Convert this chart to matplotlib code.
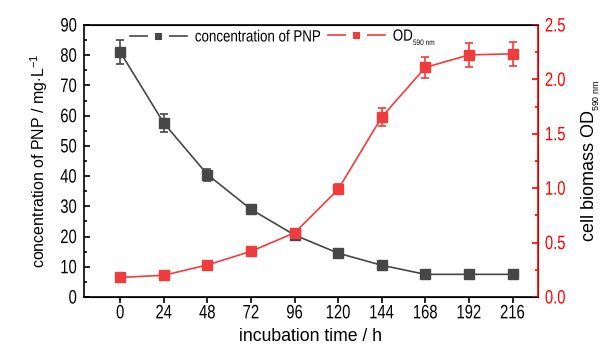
import matplotlib
matplotlib.use("Agg")
import matplotlib.pyplot as plt
from matplotlib.lines import Line2D
from matplotlib.ticker import MultipleLocator
from matplotlib.transforms import Affine2D
from matplotlib.patheffects import AbstractPathEffect

plt.rcParams['font.family'] = ['Liberation Sans', 'DejaVu Sans']
plt.rcParams['mathtext.fontset'] = 'custom'
plt.rcParams['mathtext.rm'] = 'Liberation Sans'
plt.rcParams['mathtext.it'] = 'Liberation Sans'

hours = [0, 24, 48, 72, 96, 120, 144, 168, 192, 216]
pnp = [81.0, 57.5, 40.5, 29.0, 20.5, 14.5, 10.5, 7.5, 7.5, 7.5]
pnp_err = [4.0, 3.0, 2.0, 1.3, 1.0, 1.0, 1.0, 0.8, 0.8, 0.8]
od = [0.18, 0.20, 0.295, 0.42, 0.59, 0.99, 1.655, 2.11, 2.225, 2.235]
od_err = [0.02, 0.02, 0.03, 0.03, 0.03, 0.045, 0.085, 0.10, 0.11, 0.11]

grey = '#474747'
red = '#f03c3c'


class Narrow(AbstractPathEffect):
    # squeeze glyphs horizontally (the original uses a narrow font)
    def __init__(self, sx=0.78, anchor='center'):
        super().__init__()
        self.sx = sx
        self.anchor = anchor

    def draw_path(self, renderer, gc, tpath, affine, rgbFace=None):
        v = tpath.vertices
        if len(v):
            x0, x1 = v[:, 0].min(), v[:, 0].max()
            cx = {'left': x0, 'center': (x0 + x1) / 2, 'right': x1}[self.anchor]
            affine = Affine2D().translate(-cx, 0).scale(self.sx, 1).translate(cx, 0) + affine
        renderer.draw_path(gc, tpath, affine, rgbFace)


fig, ax = plt.subplots(figsize=(6.14, 3.51), dpi=100)
fig.subplots_adjust(left=0.1368, right=0.8762, top=0.9288, bottom=0.1538)
ax2 = ax.twinx()

ax.errorbar(hours, pnp, yerr=pnp_err, color=grey, marker='s', ms=6.5,
            lw=1.2, capsize=3, elinewidth=1.2, capthick=1.2)
ax2.errorbar(hours, od, yerr=od_err, color=red, marker='s', ms=6.5,
             lw=1.2, capsize=3, elinewidth=1.2, capthick=1.2)

ax.set_xlim(-20, 230)
ax.set_ylim(0, 90)
ax2.set_ylim(0, 2.5)
ax.set_xticks(hours)
ax.yaxis.set_major_locator(MultipleLocator(10))
ax.yaxis.set_minor_locator(MultipleLocator(5))
ax2.yaxis.set_major_locator(MultipleLocator(0.5))
ax2.yaxis.set_minor_locator(MultipleLocator(0.25))
ax2.yaxis.set_major_formatter(plt.FormatStrFormatter('%.1f'))

ax.tick_params(axis='x', which='major', direction='out', length=4, width=1.2,
               labelsize=14, pad=2)
ax.tick_params(axis='y', which='major', direction='in', length=4.5, width=1.2,
               labelsize=14, pad=5)
ax.tick_params(axis='y', which='minor', direction='in', length=2.5, width=1.2)
ax2.tick_params(axis='y', which='major', direction='in', length=4.5, width=1.2,
                labelsize=14, colors='red', pad=5)
ax2.tick_params(axis='y', which='minor', direction='in', length=2.5, width=1.2, colors='red')

for s in ['left', 'bottom', 'top']:
    ax.spines[s].set_linewidth(1.2)
ax2.spines['right'].set_color('red')
ax2.spines['right'].set_linewidth(1.2)
ax2.spines['left'].set_visible(False)

ax.set_xlabel('incubation time / h', fontsize=12.7, labelpad=4)
ax.set_ylabel('concentration of PNP / mg$\\cdot$L$^{-1}$', fontsize=11.5, labelpad=4)
ax2.set_ylabel('cell biomass OD$_{_{590\\ \\mathrm{nm}}}$', fontsize=13, labelpad=6)

h1 = Line2D([], [], color=grey, lw=1.2, marker='s', ms=10, mec='white', mew=5, mfc=grey)
h2 = Line2D([], [], color=red, lw=1.2, marker='s', ms=10, mec='white', mew=5, mfc=red)
leg1 = ax.legend([h1], ['concentration of PNP'], loc='center left', frameon=False,
                 fontsize=11.7, handlelength=3.5, handletextpad=0.5, borderpad=0,
                 borderaxespad=0, bbox_to_anchor=(0.101, 0.956))
ax.add_artist(leg1)
leg2 = ax.legend([h2], ['OD$_{_{590\\ \\mathrm{nm}}}$'], loc='center left', frameon=False,
                 fontsize=11.7, handlelength=3.5, handletextpad=0.5, borderpad=0,
                 borderaxespad=0, bbox_to_anchor=(0.537, 0.956))

fig.canvas.draw()
for lab in ax.get_xticklabels():
    lab.set_path_effects([Narrow(0.76, 'center')])
for lab in ax.get_yticklabels():
    lab.set_path_effects([Narrow(0.76, 'right')])
for lab in ax2.get_yticklabels():
    lab.set_path_effects([Narrow(0.76, 'left')])
for lg in (leg1, leg2):
    for t in lg.get_texts():
        t.set_path_effects([Narrow(0.82, 'left')])

fig.savefig('out.png', dpi=100)
